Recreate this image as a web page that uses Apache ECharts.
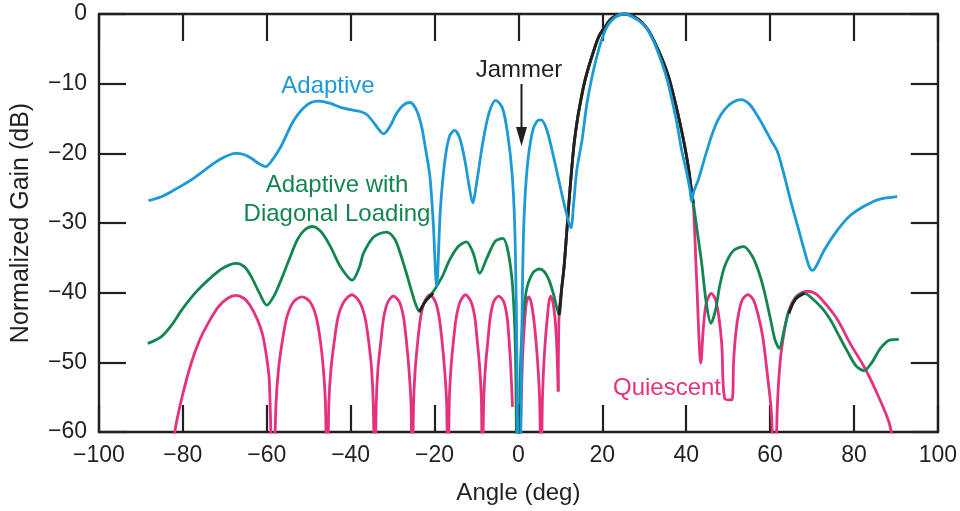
<!DOCTYPE html>
<html>
<head>
<meta charset="utf-8">
<script src="https://cdn.jsdelivr.net/npm/echarts@6/dist/echarts.min.js"></script>
<style>
  html, body { margin: 0; padding: 0; background: #fff; }
  #chart { width: 960px; height: 511px; }
</style>
</head>
<body>
<div id="chart"></div>
<script>
// angle (deg), normalized gain (dB)
const adaptive = [
  [-88.2, -26.8], [-85, -26.2], [-81.9, -25.2], [-78, -23.8], [-74.8, -22.4], [-71, -20.8],
  [-67.3, -20.0], [-65.3, -20.2], [-63.7, -20.7], [-61.8, -21.5], [-60.2, -21.9], [-58.5, -20.8],
  [-56.6, -19.0], [-53.5, -15.2], [-50.3, -13.0], [-47.6, -12.5], [-45, -12.8], [-42.4, -13.4],
  [-39.5, -13.8], [-37.7, -14.0], [-36, -14.5], [-34.5, -15.6], [-32.1, -17.2], [-30.5, -16.0],
  [-29, -14.2], [-27.3, -13.0], [-25.8, -12.7], [-24.3, -13.8], [-23.1, -16.1], [-22.1, -19.5],
  [-21.1, -23.3], [-20.3, -30], [-19.5, -39.1], [-18.6, -28], [-17.5, -20.9], [-16.4, -17.5],
  [-15.2, -16.7], [-14, -17.8], [-12.8, -20.9], [-11.8, -24.5], [-10.9, -27.1], [-9.9, -24],
  [-8.5, -18.5], [-7, -14.2], [-5.4, -12.4], [-3.8, -13.5], [-2.5, -17.5], [-1.5, -23],
  [-0.9, -30], [-0.5, -42], [0.2, -75], [0.9, -42], [1.3, -30], [2.1, -22], [3.3, -17],
  [4.4, -15.4], [5.4, -15.2], [6.7, -16.5], [8, -19.5], [9.5, -23.5], [11, -27.5], [12.5, -30.7],
  [13.2, -27], [13.9, -22.5], [15.2, -18], [16.3, -13], [17.6, -8.9], [19.2, -5], [20.8, -2.2],
  [22.8, -0.6], [25.3, 0], [27.8, -0.6], [30.3, -1.8], [32.3, -4], [34.2, -7], [35.5, -9.5],
  [36.6, -12.3], [37.8, -15.7], [38.9, -19.5], [40.1, -22.7], [40.9, -25.2], [41.3, -26.9],
  [41.8, -25.5], [42.9, -23.8], [44.5, -20.5], [46, -17.6], [47.5, -15.3], [49.2, -13.7],
  [51, -12.7], [53, -12.3], [55, -12.9], [57, -14.6], [58.8, -16.5], [60.3, -18.2], [61.8, -19.8],
  [63.3, -23], [65, -27], [66.6, -30.5], [68.2, -34], [69.3, -36.2], [70.1, -36.8], [71, -36.2],
  [73, -33.8], [76.1, -31], [79, -29], [82.4, -27.6], [86, -26.6], [90.3, -26.2]
];

// main beam, shared by the quiescent and diagonal-loading patterns (drawn black)
const mainLobe = [
  [9.7, -43.2], [10.3, -39.5], [10.9, -36.2], [11.5, -31.5], [12.1, -26.7], [12.7, -22.3],
  [13.3, -18.5], [14.1, -15], [14.9, -12.3], [15.8, -9.7], [16.8, -7.5], [18, -5.2], [19.2, -3.2],
  [20.7, -1.8], [22.3, -0.6], [25.3, 0], [28.7, -0.8], [30.8, -2.2], [32.6, -4.2], [34.3, -6.5],
  [35.8, -9], [37.2, -12.2], [38.5, -15.6], [39.6, -18.8], [40.5, -21.9], [41.3, -25.5], [41.7, -27.1]
];

const loadedLeft = [
  [-88.4, -47.3], [-85.1, -46.3], [-82.5, -44.5], [-80.3, -42.5], [-77, -40], [-74, -38.2],
  [-70.5, -36.5], [-67.3, -35.8], [-65.3, -36.3], [-63.7, -37.7], [-61.8, -40], [-60, -41.8],
  [-58.3, -40.5], [-56.6, -38.2], [-54.5, -35], [-52.7, -32.4], [-51, -31], [-49.1, -30.5],
  [-47, -31.3], [-44.8, -33.4], [-42.5, -36.2], [-39.6, -38.2], [-38, -36.5], [-36.9, -34.3],
  [-34.5, -32], [-31.4, -31.3], [-29.5, -32.3], [-28.2, -34.3], [-26.8, -37], [-25.8, -39.1],
  [-24.6, -41.5], [-23.6, -42.7], [-22.2, -41.2], [-20.5, -40], [-19.5, -39.1], [-18, -37.5],
  [-16.4, -35.3], [-14.4, -33.4], [-12.4, -32.7], [-10.8, -34.3], [-9.2, -37.2], [-7.5, -35],
  [-5.5, -32.6], [-3.7, -32.2], [-2.5, -34], [-1.4, -39], [-0.7, -48.7], [-0.2, -75], [0.6, -48.7],
  [1.8, -40], [3.4, -37.2], [5, -36.6], [6.2, -37], [7.3, -38.2], [8.5, -40.5]
];
const loadedRight = [
  [42.6, -31], [43.7, -35.8], [44.8, -41.5], [45.9, -44.4], [47, -42.5], [48, -39], [49.2, -36.2],
  [51.2, -34], [53.7, -33.4], [55.8, -34.8], [57.3, -37], [58.5, -39.5], [60, -43.5], [61.2, -46.8],
  [62.2, -48], [63.3, -45.5], [64.3, -43], [65.4, -41.5], [66.7, -40.4], [68.2, -40.1], [70, -40.8],
  [72.5, -42.3], [74.5, -44], [76.1, -45.8], [78.5, -48.5], [80.5, -50.5], [82.4, -51.2],
  [84.3, -50], [86.3, -48], [88.5, -46.8], [90.7, -46.7]
];

const quiescentLeft = [
  [-82.3, -64], [-81.9, -59.9], [-80, -54.5], [-78, -50.1], [-76, -46.8], [-74, -44.4],
  [-71.5, -42], [-69.3, -40.8], [-67.4, -40.4], [-65.5, -40.8], [-64, -41.8], [-62.2, -43.9],
  [-61, -46], [-60.1, -49], [-59.4, -52.5], [-58.5, -70],
  [-57.8, -56], [-57.2, -51], [-56.3, -47], [-55.2, -43.5], [-53.6, -41.3], [-51.6, -40.6],
  [-49.7, -41.3], [-48.2, -43.5], [-47.2, -47], [-46.5, -51], [-46, -56], [-45.6, -70],
  [-45.2, -56], [-44.7, -51], [-43.9, -47], [-43, -43.5], [-41.6, -41.3], [-39.7, -40.3],
  [-37.9, -41.3], [-36.6, -43.5], [-35.7, -47], [-35, -51], [-34.6, -56], [-34.2, -70],
  [-33.9, -56], [-33.5, -51], [-32.8, -47], [-32.1, -43.5], [-31.1, -41.3], [-29.8, -40.5],
  [-28.4, -41.3], [-27.4, -43.5], [-26.7, -47], [-26.1, -51], [-25.6, -56], [-25.3, -70],
  [-25, -56], [-24.6, -51], [-24, -47], [-23.3, -43.5], [-22.4, -41.3], [-21.1, -40.3],
  [-19.8, -41.3], [-18.9, -43.5], [-18.2, -47], [-17.6, -51], [-17.1, -56], [-16.8, -70],
  [-16.5, -56], [-16.1, -51], [-15.5, -47], [-14.8, -43.5], [-13.9, -41.3], [-12.6, -40.3],
  [-11.3, -41.3], [-10.4, -43.5], [-9.8, -47], [-9.2, -51], [-8.8, -56], [-8.6, -70],
  [-8.3, -56], [-7.9, -51], [-7.3, -47], [-6.7, -43.5], [-5.9, -41.3], [-4.7, -40.5],
  [-3.5, -41.3], [-2.7, -43.5], [-2.2, -47], [-1.8, -51], [-1.4, -56.4]
];
const quiescentRight = [
  [0.5, -60], [0.8, -53], [1.1, -48], [1.5, -44], [1.9, -41.5], [2.4, -40.6], [3.0, -41.3],
  [3.6, -43.5], [4.2, -47], [4.7, -51], [5.1, -56], [5.4, -70], [5.7, -56], [6.0, -51], [6.4, -47],
  [6.9, -43.5], [7.3, -41.3], [7.7, -40.5], [8.2, -41.3], [8.7, -43.5], [9.1, -47], [9.5, -54.2]
];
const quiescentTail = [
  [42.5, -38.2], [43.5, -50.1], [44.1, -45], [44.8, -41.5], [46, -40.1], [47, -41], [47.8, -43.5],
  [48.5, -47.5], [49.2, -55.2], [50.9, -55.4], [51.3, -50], [51.8, -46], [52.5, -43], [53.4, -41],
  [54.7, -40.3], [56, -41], [57.2, -43.3], [58.3, -46.5], [59.5, -52.5], [60.3, -57], [61.2, -70],
  [61.7, -57], [62.4, -50], [63.4, -45.5], [64.5, -42.5], [66, -40.7], [67.5, -40], [69, -39.8],
  [71, -40.2], [73.5, -41.8], [76.1, -43.9], [79.3, -47.5], [82.4, -50.6], [85.4, -54.3],
  [88.3, -58.5], [89.5, -62]
];

// where the green and pink traces overlap they print black
const overlapA = [[-23.6, -42.7], [-22.2, -41.3], [-20.3, -40.1]];
const overlapB = [[64.5, -43], [66, -41], [68.2, -40.1]];
const overlapJam = [[0.15, -56], [0.15, -61]];

const xTicks = { min: -100, max: 100, step: 20 };
const yTicks = { min: -60, max: 0, step: 10 };

const BLUE = '#1b9ad6';
const GREEN = '#138650';
const PINK = '#e6317f';
const BLACK = '#231f20';
const FONT = 'Liberation Sans, Arial, Helvetica, sans-serif';

let myChart = echarts.init(document.getElementById('chart'));

function minus(v) {
  return String(v).replace('-', '\u2212');
}

function line(data, color, z, width) {
  return {
    type: 'line',
    data: data,
    symbol: 'none',
    smooth: 0.3,
    clip: true,
    z: z,
    lineStyle: { color: color, width: width || 2.8 },
    silent: true
  };
}

const tickStyle = { show: true, inside: true, length: 27, lineStyle: { color: BLACK, width: 2.2 } };
const lineStyle = { show: true, onZero: false, lineStyle: { color: BLACK, width: 2.4 } };

myChart.setOption({
  animation: false,
  backgroundColor: '#fff',
  grid: { left: 99, right: 18, top: 14, bottom: 79 },
  xAxis: [{
    type: 'value', position: 'bottom',
    min: xTicks.min, max: xTicks.max, interval: xTicks.step,
    axisLine: lineStyle, axisTick: tickStyle, splitLine: { show: false },
    axisLabel: { margin: 12, color: BLACK, fontSize: 23, fontFamily: FONT, formatter: minus },
    name: 'Angle (deg)', nameLocation: 'middle', nameGap: 49,
    nameTextStyle: { color: BLACK, fontSize: 24, fontFamily: FONT }
  }, {
    type: 'value', position: 'top',
    min: xTicks.min, max: xTicks.max, interval: xTicks.step,
    axisLine: lineStyle, axisTick: tickStyle, splitLine: { show: false },
    axisLabel: { show: false }
  }],
  yAxis: [{
    type: 'value', position: 'left',
    min: yTicks.min, max: yTicks.max, interval: yTicks.step,
    axisLine: lineStyle, axisTick: tickStyle, splitLine: { show: false },
    axisLabel: { margin: 12, color: BLACK, fontSize: 23, fontFamily: FONT, formatter: minus },
    name: 'Normalized Gain (dB)', nameLocation: 'middle', nameGap: 65,
    nameTextStyle: { color: BLACK, fontSize: 25, fontFamily: FONT }
  }, {
    type: 'value', position: 'right',
    min: yTicks.min, max: yTicks.max, interval: yTicks.step,
    axisLine: lineStyle, axisTick: tickStyle, splitLine: { show: false },
    axisLabel: { show: false }
  }],
  series: [
    line(quiescentLeft, PINK, 2),
    line(quiescentRight, PINK, 2),
    line(quiescentRight.slice(-1).concat(mainLobe, quiescentTail), PINK, 2),
    line(loadedLeft, GREEN, 3),
    line(loadedLeft.slice(-1).concat(mainLobe, loadedRight), GREEN, 3),
    line(mainLobe, BLACK, 4),
    line(overlapA, BLACK, 4),
    line(overlapB, BLACK, 4),
    line(overlapJam, BLACK, 4, 3),
    line(adaptive, BLUE, 5)
  ],
  graphic: [
    { type: 'text', x: 328, y: 86, z: 10, style: { text: 'Adaptive', fill: BLUE, font: '24px ' + FONT, textAlign: 'center', textVerticalAlign: 'middle' } },
    { type: 'text', x: 337, y: 185, z: 10, style: { text: 'Adaptive with', fill: GREEN, font: '24px ' + FONT, textAlign: 'center', textVerticalAlign: 'middle' } },
    { type: 'text', x: 337, y: 214, z: 10, style: { text: 'Diagonal Loading', fill: GREEN, font: '24px ' + FONT, textAlign: 'center', textVerticalAlign: 'middle' } },
    { type: 'text', x: 667, y: 388, z: 10, style: { text: 'Quiescent', fill: PINK, font: '24px ' + FONT, textAlign: 'center', textVerticalAlign: 'middle' } },
    { type: 'text', x: 519, y: 70, z: 10, style: { text: 'Jammer', fill: BLACK, font: '24px ' + FONT, textAlign: 'center', textVerticalAlign: 'middle' } },
    { type: 'line', z: 10, shape: { x1: 521.5, y1: 84, x2: 521.5, y2: 132 }, style: { stroke: BLACK, lineWidth: 2 } },
    { type: 'polygon', z: 10, shape: { points: [[516, 127], [527, 127], [521.5, 146]] }, style: { fill: BLACK } }
  ]
});
</script>
</body>
</html>
